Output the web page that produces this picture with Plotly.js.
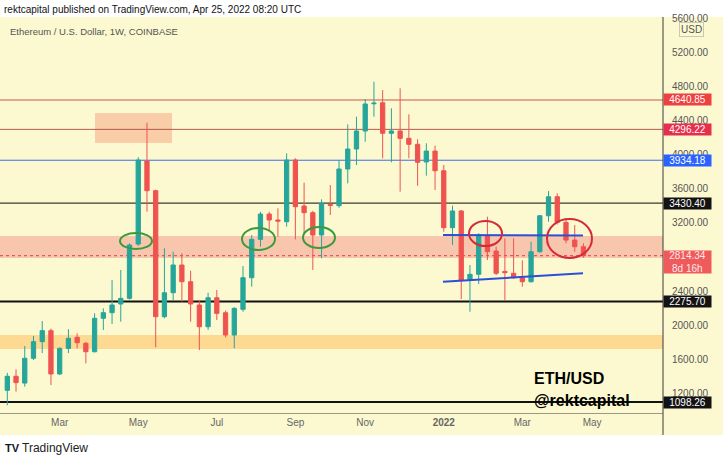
<!DOCTYPE html>
<html>
<head>
<meta charset="utf-8">
<script src="https://cdn.plot.ly/plotly-3.0.1.min.js"></script>
<style>
html,body{margin:0;padding:0;background:#ffffff;}
#chart{width:723px;height:458px;}
</style>
</head>
<body>
<div id="chart"></div>
<script>
// ---- data (ETH/USD weekly, Coinbase) ----
const weeks = [
 '2021-01-18','2021-01-25','2021-02-01','2021-02-08','2021-02-15','2021-02-22','2021-03-01','2021-03-08',
 '2021-03-15','2021-03-22','2021-03-29','2021-04-05','2021-04-12','2021-04-19','2021-04-26','2021-05-03',
 '2021-05-10','2021-05-17','2021-05-24','2021-05-31','2021-06-07','2021-06-14','2021-06-21','2021-06-28',
 '2021-07-05','2021-07-12','2021-07-19','2021-07-26','2021-08-02','2021-08-09','2021-08-16','2021-08-23',
 '2021-08-30','2021-09-06','2021-09-13','2021-09-20','2021-09-27','2021-10-04','2021-10-11','2021-10-18',
 '2021-10-25','2021-11-01','2021-11-08','2021-11-15','2021-11-22','2021-11-29','2021-12-06','2021-12-13',
 '2021-12-20','2021-12-27','2022-01-03','2022-01-10','2022-01-17','2022-01-24','2022-01-31','2022-02-07',
 '2022-02-14','2022-02-21','2022-02-28','2022-03-07','2022-03-14','2022-03-21','2022-03-28','2022-04-04',
 '2022-04-11','2022-04-18','2022-04-25'];
const openP = [
 1235,1400,1320,1611,1806,1935,1427,1727,1857,1787,1688,2080,2146,2248,2314,2951,
 3925,3577,2099,2380,2705,2509,2236,1981,2321,2145,1884,2185,2556,3006,3303,3233,
 3213,3937,3397,3319,3057,3416,3401,3831,4066,4277,4596,4609,4250,4277,4191,4121,
 3914,4042,3811,3143,3339,2537,2596,3045,2869,2630,2608,2556,2509,2861,3283,3506,
 3206,2998,2920];
const highP = [
 1440,1480,1755,1872,2048,1960,1740,1952,1904,1800,2139,2197,2529,2647,2960,3969,
 4374,3590,2901,2861,2843,2638,2295,2380,2412,2170,2210,2693,3057,3330,3330,3370,
 4015,3957,3671,3340,3476,3643,3937,4355,4445,4652,4855,4758,4543,4778,4473,4180,
 4133,4105,3878,3401,3350,2705,3077,3272,2920,3018,3018,2760,2978,3290,3573,3546,
 3253,3174,2960];
const lowP = [
 1060,1220,1278,1591,1672,1298,1415,1672,1727,1552,1680,1943,2013,2040,2300,2930,
 3330,1740,2080,2295,2275,2040,1708,1943,2060,1857,1728,2157,2451,2920,3116,3037,
 3155,3006,3077,2647,2784,3292,3377,3663,3878,4152,4445,3957,3910,3565,3957,3635,
 3753,3585,3096,2940,2306,2157,2482,2764,2588,2295,2545,2451,2500,2850,3213,3180,
 2960,2861,2790];
const closeP = [
 1400,1325,1611,1806,1935,1427,1727,1845,1794,1688,2080,2146,2236,2314,2940,3937,
 3577,2099,2380,2705,2509,2248,1981,2321,2138,1884,2197,2556,3006,3303,3233,3220,
 3937,3389,3319,3057,3429,3405,3831,4066,4277,4594,4604,4250,4277,4191,4121,3910,
 4042,3811,3143,3339,2529,2596,3057,2861,2608,2615,2556,2509,2861,3283,3506,3206,
 2998,2920,2814.34];

// 2800.00 is fully hidden behind the last-price label in the reference
const priceTicks = [1200,1600,2000,2400,3200,3600,4000,4400,4800,5200,5600];
const monthTickDates = ['2021-03-01','2021-05-03','2021-07-05','2021-09-06','2021-11-01','2022-01-03','2022-03-07','2022-05-02'];
const monthTickLabels = ['Mar','May','Jul','Sep','Nov','<b>2022</b>','Mar','May'];

const levelValues = [4640.85, 4296.22, 3934.18, 3430.40, 2275.70, 1098.26];
const lastPrice = 2814.34;
const lastPriceCountdown = '8d 16h';
const supportBand = [2787, 3045];
const lowerBand = [1720, 1884];
const topZone = [4136, 4488];
const upperTrend = [3058, 3050];
const lowerTrend = [2509, 2608];

// ---- styles ----
const BG = '#fcf9d0';
const UP = '#26a69a', DOWN = '#ef5350';
const FONT = 'Liberation Sans, Arial, sans-serif';
const levelStyles = [
  {line:'#c8574e', w:1, box:'#ee4040'},
  {line:'#b8574e', w:1, box:'#e62e4d'},
  {line:'#3f6fe6', w:1, box:'#2962ff'},
  {line:'#3b3a2c', w:1.2, box:'#131313'},
  {line:'#111111', w:2, box:'#131313'},
  {line:'#111111', w:2, box:'#131313'}
];
const PW = 663, PH = 396, PT = 17; // plot pixel geometry
const px = v => v / PW;
const py = v => (PT + PH - v) / PH;

const trace = {
  type: 'candlestick',
  x: weeks, open: openP, high: highP, low: lowP, close: closeP,
  increasing: {line: {color: UP, width: 1}, fillcolor: UP},
  decreasing: {line: {color: DOWN, width: 1}, fillcolor: DOWN},
  whiskerwidth: 0,
  hoverinfo: 'skip'
};

const shapes = [
  {type:'rect', xref:'paper', yref:'paper', x0:0, x1:723/PW, y0:py(435), y1:1, fillcolor:BG, line:{width:0}, layer:'below'},
  {type:'rect', xref:'paper', yref:'y', x0:0, x1:1, y0:supportBand[0], y1:supportBand[1], fillcolor:'rgba(243,128,122,0.42)', line:{width:0}, layer:'below'},
  {type:'rect', xref:'paper', yref:'y', x0:0, x1:1, y0:lowerBand[0], y1:lowerBand[1], fillcolor:'rgba(255,178,72,0.45)', line:{width:0}, layer:'below'},
  {type:'rect', xref:'paper', yref:'y', x0:px(95), x1:px(172), y0:topZone[0], y1:topZone[1], fillcolor:'rgba(246,150,118,0.45)', line:{width:0}, layer:'below'},
  {type:'line', xref:'paper', yref:'y', x0:0, x1:1, y0:lastPrice, y1:lastPrice, line:{color:'#e0404a', width:1, dash:'dot'}, layer:'below'},
  // right price-axis border
  {type:'line', xref:'paper', yref:'paper', x0:1, x1:1, y0:py(435), y1:1, line:{color:'#3a3a3a', width:1}}
];
levelValues.forEach((v, i) => {
  shapes.push({type:'line', xref:'paper', yref:'y', x0:0, x1:1, y0:v, y1:v,
    line:{color:levelStyles[i].line, width:levelStyles[i].w}, layer:'below'});
});
// hand-drawn trend lines
shapes.push({type:'line', xref:'paper', yref:'y', x0:px(443), x1:px(583), y0:upperTrend[0], y1:upperTrend[1], line:{color:'#2d4fd8', width:2}});
shapes.push({type:'line', xref:'paper', yref:'y', x0:px(443), x1:px(583), y0:lowerTrend[0], y1:lowerTrend[1], line:{color:'#2d4fd8', width:2}});
// hand-drawn circles
const circ = (x0,x1,y0,y1,c) => ({type:'circle', xref:'paper', yref:'paper', x0:px(x0), x1:px(x1), y0:py(y1), y1:py(y0), line:{color:c, width:2}});
shapes.push(circ(469,502,221,246,'#d52b37'));
shapes.push(circ(547,592,219,258,'#d52b37'));
shapes.push(circ(120,152,233,249,'#3c9a3c'));
shapes.push(circ(242,275,228,250,'#3c9a3c'));
shapes.push(circ(303,335,227,248,'#3c9a3c'));

const annotations = [
  {xref:'paper', yref:'paper', x:px(2), y:py(9), xanchor:'left', yanchor:'middle', showarrow:false,
   text:'rektcapital published on TradingView.com, Apr 25, 2022 08:20 UTC', font:{family:FONT, size:10, color:'#111'}},
  {xref:'paper', yref:'paper', x:px(8), y:py(31), xanchor:'left', yanchor:'middle', showarrow:false,
   text:'Ethereum / U.S. Dollar, 1W, COINBASE', font:{family:FONT, size:9.5, color:'#555'}},
  {xref:'paper', yref:'paper', x:px(532), y:py(378), xanchor:'left', yanchor:'middle', showarrow:false,
   text:'<b>ETH/USD</b>', font:{family:FONT, size:16, color:'#000'}},
  {xref:'paper', yref:'paper', x:px(532), y:py(400), xanchor:'left', yanchor:'middle', showarrow:false,
   text:'<b>@rektcapital</b>', font:{family:FONT, size:16, color:'#000'}},
  {xref:'paper', yref:'paper', x:px(691), y:py(29.5), xanchor:'center', yanchor:'middle', showarrow:false,
   text:'USD', font:{family:FONT, size:10, color:'#555'}, bgcolor:BG, bordercolor:'#c8c8b8', borderwidth:1, borderpad:1},
  {xref:'paper', yref:'paper', x:px(3), y:py(448), xanchor:'left', yanchor:'middle', showarrow:false,
   text:'<b>TV</b>', font:{family:FONT, size:11, color:'#131722'}},
  {xref:'paper', yref:'paper', x:px(20), y:py(448), xanchor:'left', yanchor:'middle', showarrow:false,
   text:'TradingView', font:{family:FONT, size:12, color:'#222'}}
];
levelValues.forEach((v, i) => {
  annotations.push({xref:'paper', yref:'y', x:1, y:v, xanchor:'left', yanchor:'middle', showarrow:false,
    text:v.toFixed(2), font:{family:FONT, size:10, color:'#ffffff'}, bgcolor:levelStyles[i].box,
    width:47, height:11, borderpad:0, align:'center'});
});
annotations.push({xref:'paper', yref:'y', x:1, y:lastPrice, xanchor:'left', yanchor:'top', yshift:6, showarrow:false,
  text:lastPrice.toFixed(2) + '<br>' + lastPriceCountdown, font:{family:FONT, size:10, color:'#fde8e8'},
  bgcolor:'#ef5a5c', width:47, height:22, borderpad:0, align:'center'});

const layout = {
  width: 723, height: 458,
  margin: {l:0, r:723-PW, t:PT, b:458-PT-PH},
  paper_bgcolor: '#ffffff',
  plot_bgcolor: BG,
  showlegend: false,
  xaxis: {
    type:'date', range:['2021-01-12 03:30','2022-06-27 19:00'],
    rangeslider:{visible:false},
    tickmode:'array', tickvals:monthTickDates, ticktext:monthTickLabels,
    showgrid:false, zeroline:false, ticks:'',
    showline:true, linecolor:'#9a9a8a', linewidth:1,
    tickfont:{family:FONT, size:10, color:'#666'}
  },
  yaxis: {
    side:'right', range:[969.2, 5614.4], autorange:false,
    tickmode:'array', tickvals:priceTicks, ticktext:priceTicks.map(v => v.toFixed(2)),
    showgrid:false, zeroline:false, ticks:'', ticklabelstandoff:8,
    tickfont:{family:FONT, size:10, color:'#555'}
  },
  shapes: shapes,
  annotations: annotations
};

Plotly.newPlot('chart', [trace], layout, {staticPlot:true, displayModeBar:false});
</script>
</body>
</html>
